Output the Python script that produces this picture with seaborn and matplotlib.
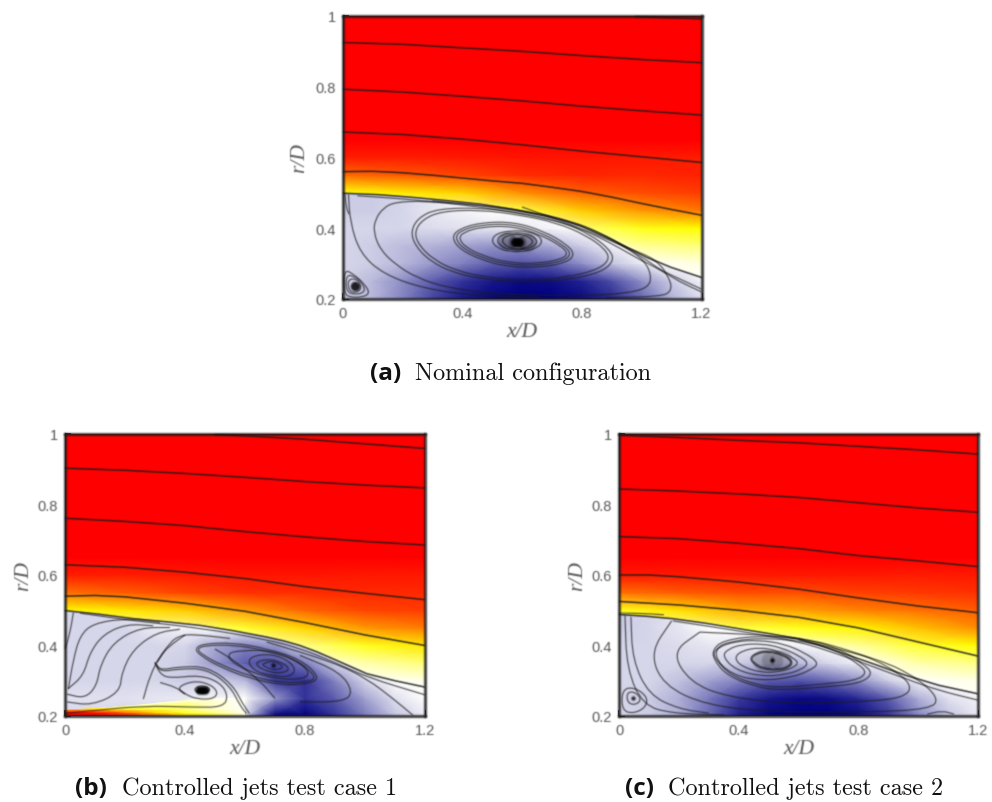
import numpy as np
import seaborn as sns
import matplotlib
matplotlib.use("Agg")
import matplotlib.pyplot as plt
from matplotlib.colors import LinearSegmentedColormap
from matplotlib.patches import PathPatch, Polygon
from matplotlib.path import Path
from matplotlib.transforms import Affine2D

# field rows are listed from the top of the plot down
JET_X = [0, 0.2, 0.4, 0.6, 0.8, 1.0, 1.2]
JET_R = [1.0, 0.95, 0.9, 0.85, 0.8, 0.75, 0.7, 0.65, 0.6, 0.55, 0.5, 0.45, 0.4, 0.35, 0.3, 0.25, 0.2]
BUBBLE_X = [0, 0.1, 0.2, 0.3, 0.4, 0.5, 0.6, 0.7, 0.8, 0.9, 1.0, 1.1, 1.2]
BUBBLE_R = [0.5, 0.45, 0.4, 0.35, 0.3, 0.25, 0.2]
WEDGE_X = [0, 0.1, 0.2, 0.3, 0.4, 0.5, 0.6]
WEDGE_R = [0.25, 0.24, 0.23, 0.22, 0.21, 0.2]

JET_TOP = [[1, 1, 1, 1, 1, 1, 1]] * 8

JET_A = JET_TOP + [
    [0.97, 0.97, 0.975, 0.98, 0.98, 0.975, 0.97],
    [0.894, 0.912, 0.931, 0.955, 0.961, 0.958, 0.965],
    [0.74, 0.768, 0.79, 0.857, 0.905, 0.925, 0.938],
    [0.6, 0.6, 0.6, 0.68, 0.8, 0.85, 0.88],
    [0.5, 0.5, 0.5, 0.5, 0.64, 0.725, 0.75],
    [0.5, 0.5, 0.5, 0.5, 0.52, 0.6, 0.63],
    [0.5, 0.5, 0.5, 0.5, 0.5, 0.5, 0.53],
    [0.5, 0.5, 0.5, 0.5, 0.5, 0.5, 0.5],
    [0.5, 0.5, 0.5, 0.5, 0.5, 0.5, 0.5],
]
JET_B = JET_TOP + [
    [0.97, 0.97, 0.975, 0.98, 0.98, 0.975, 0.975],
    [0.89, 0.91, 0.93, 0.95, 0.955, 0.96, 0.96],
    [0.75, 0.77, 0.8, 0.85, 0.9, 0.93, 0.94],
    [0.6, 0.6, 0.62, 0.7, 0.79, 0.85, 0.875],
    [0.5, 0.5, 0.5, 0.52, 0.62, 0.72, 0.77],
    [0.5, 0.5, 0.5, 0.5, 0.52, 0.58, 0.63],
    [0.5, 0.5, 0.5, 0.5, 0.5, 0.5, 0.52],
    [0.5, 0.5, 0.5, 0.5, 0.5, 0.5, 0.5],
    [0.5, 0.5, 0.5, 0.5, 0.5, 0.5, 0.5],
]
JET_C = JET_TOP + [
    [0.975, 0.975, 0.975, 0.975, 0.975, 0.97, 0.975],
    [0.89, 0.91, 0.925, 0.925, 0.935, 0.945, 0.95],
    [0.72, 0.78, 0.83, 0.84, 0.87, 0.89, 0.91],
    [0.6, 0.6, 0.68, 0.72, 0.76, 0.81, 0.86],
    [0.5, 0.5, 0.5, 0.55, 0.6, 0.7, 0.75],
    [0.5, 0.5, 0.5, 0.5, 0.5, 0.58, 0.62],
    [0.5, 0.5, 0.5, 0.5, 0.5, 0.5, 0.52],
    [0.5, 0.5, 0.5, 0.5, 0.5, 0.5, 0.5],
    [0.5, 0.5, 0.5, 0.5, 0.5, 0.5, 0.5],
]

BUBBLE_A = [
    [0.40, 0.40, 0.42, 0.45, 0.48, 0.5, 0.5, 0.5, 0.5, 0.5, 0.5, 0.5, 0.5],
    [0.40, 0.40, 0.42, 0.45, 0.48, 0.5, 0.5, 0.5, 0.5, 0.5, 0.5, 0.5, 0.5],
    [0.42, 0.42, 0.42, 0.43, 0.44, 0.45, 0.46, 0.48, 0.5, 0.5, 0.5, 0.5, 0.5],
    [0.42, 0.40, 0.37, 0.35, 0.32, 0.29, 0.29, 0.34, 0.40, 0.47, 0.5, 0.5, 0.5],
    [0.42, 0.40, 0.36, 0.30, 0.25, 0.19, 0.16, 0.19, 0.28, 0.38, 0.46, 0.5, 0.5],
    [0.42, 0.36, 0.28, 0.18, 0.10, 0.05, 0.02, 0.03, 0.07, 0.15, 0.28, 0.40, 0.47],
    [0.40, 0.36, 0.26, 0.14, 0.05, 0.01, 0.0, 0.0, 0.02, 0.08, 0.20, 0.34, 0.43],
]
BUBBLE_B = [
    [0.42, 0.42, 0.45, 0.48, 0.5, 0.5, 0.5, 0.5, 0.5, 0.5, 0.5, 0.5, 0.5],
    [0.42, 0.42, 0.42, 0.46, 0.48, 0.5, 0.5, 0.5, 0.5, 0.5, 0.5, 0.5, 0.5],
    [0.42, 0.42, 0.42, 0.42, 0.42, 0.33, 0.26, 0.30, 0.45, 0.5, 0.5, 0.5, 0.5],
    [0.42, 0.42, 0.42, 0.42, 0.40, 0.30, 0.18, 0.14, 0.24, 0.42, 0.5, 0.5, 0.5],
    [0.42, 0.42, 0.42, 0.42, 0.40, 0.42, 0.36, 0.12, 0.10, 0.26, 0.42, 0.5, 0.5],
    [0.44, 0.44, 0.44, 0.45, 0.46, 0.48, 0.5, 0.30, 0.10, 0.18, 0.32, 0.44, 0.5],
    [0.42, 0.42, 0.42, 0.42, 0.42, 0.5, 0.42, 0.0, 0.0, 0.10, 0.24, 0.38, 0.46],
]
BUBBLE_C = [
    [0.40, 0.42, 0.45, 0.5, 0.5, 0.5, 0.5, 0.5, 0.5, 0.5, 0.5, 0.5, 0.5],
    [0.40, 0.42, 0.45, 0.5, 0.5, 0.5, 0.5, 0.5, 0.5, 0.5, 0.5, 0.5, 0.5],
    [0.42, 0.42, 0.43, 0.45, 0.46, 0.46, 0.48, 0.5, 0.5, 0.5, 0.5, 0.5, 0.5],
    [0.42, 0.42, 0.42, 0.42, 0.40, 0.36, 0.36, 0.42, 0.47, 0.5, 0.5, 0.5, 0.5],
    [0.42, 0.42, 0.38, 0.32, 0.26, 0.18, 0.16, 0.20, 0.28, 0.40, 0.48, 0.5, 0.5],
    [0.42, 0.40, 0.34, 0.24, 0.12, 0.05, 0.02, 0.03, 0.08, 0.18, 0.34, 0.44, 0.48],
    [0.42, 0.40, 0.34, 0.20, 0.06, 0.01, 0.0, 0.0, 0.02, 0.10, 0.26, 0.38, 0.45],
]
WEDGE_VALUES = [
    [0.42, 0.42, 0.45, 0.5, 0.52, 0.52, 0.5],
    [0.42, 0.45, 0.48, 0.52, 0.58, 0.54, 0.5],
    [0.45, 0.5, 0.55, 0.62, 0.65, 0.55, 0.5],
    [0.8, 0.78, 0.72, 0.7, 0.62, 0.55, 0.5],
    [1, 0.98, 0.9, 0.8, 0.72, 0.62, 0.52],
    [1, 1, 0.98, 0.9, 0.78, 0.7, 0.55],
]
WEDGE_EDGE = [(0, 0.2), (0, 0.217), (0.2, 0.228), (0.4, 0.245), (0.5, 0.255), (0.6, 0.25), (0.6, 0.2)]

SHEAR_A = [(0, 0.499), (0.12, 0.495), (0.237, 0.487), (0.35, 0.478), (0.46, 0.468), (0.57, 0.453), (0.682, 0.435), (0.74, 0.422), (0.794, 0.407), (0.85, 0.386), (0.905, 0.365), (0.96, 0.342), (1.016, 0.318), (1.1, 0.289), (1.2, 0.261)]
SHEAR_B = [(0, 0.499), (0.11, 0.489), (0.228, 0.476), (0.34, 0.467), (0.45, 0.457), (0.56, 0.442), (0.672, 0.424), (0.73, 0.413), (0.783, 0.40), (0.84, 0.382), (0.894, 0.362), (0.95, 0.341), (1.006, 0.32), (1.1, 0.30), (1.2, 0.282)]
SHEAR_C = [(0, 0.488), (0.09, 0.483), (0.18, 0.476), (0.29, 0.463), (0.404, 0.447), (0.5, 0.434), (0.6, 0.419), (0.67, 0.401), (0.738, 0.381), (0.85, 0.348), (0.96, 0.315), (1.07, 0.287), (1.2, 0.263)]

# outer streamlines in the jet
OUTER_A = [
    [(0.98, 0.998), (1.2, 0.992)],
    [(0, 0.925), (0.2, 0.92), (0.4, 0.91), (0.6, 0.90), (0.8, 0.888), (1.0, 0.877), (1.2, 0.868)],
    [(0, 0.793), (0.2, 0.785), (0.4, 0.773), (0.6, 0.76), (0.8, 0.745), (1.0, 0.732), (1.2, 0.72)],
    [(0, 0.672), (0.2, 0.665), (0.4, 0.652), (0.6, 0.636), (0.8, 0.618), (1.0, 0.602), (1.2, 0.586)],
    [(0, 0.56), (0.1, 0.561), (0.2, 0.557), (0.3, 0.55), (0.4, 0.542), (0.5, 0.534), (0.6, 0.527), (0.7, 0.516), (0.8, 0.504), (0.9, 0.488), (1.0, 0.47), (1.1, 0.453), (1.2, 0.437)],
    SHEAR_A,
]
OUTER_B = [
    [(0.5, 0.998), (0.6, 0.995), (0.8, 0.985), (1.0, 0.972), (1.2, 0.959)],
    [(0, 0.903), (0.2, 0.897), (0.4, 0.888), (0.6, 0.877), (0.8, 0.865), (1.0, 0.855), (1.2, 0.847)],
    [(0, 0.761), (0.2, 0.752), (0.4, 0.74), (0.6, 0.723), (0.8, 0.708), (1.0, 0.695), (1.2, 0.685)],
    [(0, 0.629), (0.2, 0.622), (0.4, 0.608), (0.6, 0.59), (0.8, 0.567), (1.0, 0.548), (1.2, 0.53)],
    [(0, 0.54), (0.1, 0.542), (0.2, 0.538), (0.4, 0.52), (0.6, 0.497), (0.8, 0.465), (1.0, 0.43), (1.2, 0.40)],
    SHEAR_B,
]
OUTER_C = [
    [(0, 0.997), (0.2, 0.99), (0.4, 0.982), (0.6, 0.975), (0.8, 0.965), (1.0, 0.955), (1.2, 0.943)],
    [(0, 0.844), (0.2, 0.838), (0.4, 0.83), (0.6, 0.82), (0.8, 0.805), (1.0, 0.79), (1.2, 0.778)],
    [(0, 0.709), (0.2, 0.703), (0.4, 0.69), (0.6, 0.675), (0.8, 0.655), (1.0, 0.64), (1.2, 0.624)],
    [(0, 0.60), (0.1, 0.60), (0.2, 0.595), (0.4, 0.58), (0.6, 0.56), (0.8, 0.535), (1.0, 0.512), (1.2, 0.493)],
    [(0, 0.525), (0.2, 0.515), (0.4, 0.50), (0.6, 0.48), (0.8, 0.45), (1.0, 0.41), (1.2, 0.37)],
    SHEAR_C,
]

# curved open streamlines
LINES_A = [
    [(0.05, 0.492), (0.237, 0.481), (0.46, 0.461), (0.682, 0.428), (0.794, 0.40), (0.905, 0.355), (1.016, 0.30), (1.2, 0.228)],
    [(0.30, 0.478), (0.6, 0.45), (0.8, 0.41), (0.92, 0.36), (1.0, 0.32), (1.1, 0.26), (1.2, 0.22)],
    [(0.6, 0.46), (0.8, 0.40), (0.95, 0.345), (1.05, 0.312), (1.095, 0.256), (1.10, 0.223), (1.067, 0.207), (0.883, 0.204)],
    [(0.02, 0.496), (0.025, 0.42), (0.058, 0.33), (0.137, 0.27), (0.27, 0.23), (0.437, 0.21), (0.66, 0.205)],
    [(0.008, 0.498), (0.012, 0.46), (0.022, 0.44)],
]
RINGS_A = [
    [(0.176, 0.474), (0.137, 0.458), (0.109, 0.425), (0.104, 0.388), (0.126, 0.340), (0.176, 0.298), (0.248, 0.260), (0.349, 0.232), (0.493, 0.216), (0.660, 0.210), (0.827, 0.210), (0.950, 0.216), (1.022, 0.232), (1.033, 0.265), (1.011, 0.307), (0.950, 0.345), (0.861, 0.388), (0.761, 0.421), (0.616, 0.449), (0.438, 0.468), (0.271, 0.477)],
    [(0.315, 0.455), (0.254, 0.430), (0.228, 0.392), (0.243, 0.350), (0.293, 0.307), (0.371, 0.274), (0.471, 0.256), (0.605, 0.246), (0.749, 0.254), (0.861, 0.274), (0.908, 0.307), (0.894, 0.340), (0.827, 0.383), (0.727, 0.421), (0.594, 0.444), (0.460, 0.458)],
    [(0.330, 0.448), (0.268, 0.425), (0.240, 0.390), (0.255, 0.352), (0.305, 0.311), (0.380, 0.280), (0.475, 0.262), (0.605, 0.252), (0.740, 0.260), (0.845, 0.280), (0.893, 0.309), (0.880, 0.340), (0.815, 0.380), (0.715, 0.416), (0.590, 0.438), (0.460, 0.452)],
    [(0.365, 0.373), (0.387, 0.397), (0.460, 0.416), (0.571, 0.418), (0.672, 0.392), (0.749, 0.355), (0.777, 0.326), (0.749, 0.303), (0.660, 0.289), (0.549, 0.291), (0.460, 0.312), (0.393, 0.340)],
    [(0.376, 0.373), (0.394, 0.393), (0.461, 0.410), (0.570, 0.412), (0.666, 0.387), (0.739, 0.352), (0.765, 0.328), (0.741, 0.308), (0.657, 0.295), (0.552, 0.297), (0.465, 0.317), (0.402, 0.343)],
    [(0.388, 0.372), (0.405, 0.389), (0.464, 0.404), (0.569, 0.406), (0.660, 0.382), (0.729, 0.351), (0.754, 0.329), (0.734, 0.313), (0.654, 0.300), (0.555, 0.302), (0.470, 0.322), (0.411, 0.346)],
    [(0.497, 0.366), (0.515, 0.385), (0.56, 0.393), (0.62, 0.392), (0.665, 0.375), (0.665, 0.352), (0.62, 0.335), (0.56, 0.333), (0.515, 0.345)],
    [(0.515, 0.366), (0.53, 0.382), (0.57, 0.388), (0.62, 0.385), (0.652, 0.368), (0.645, 0.350), (0.60, 0.338), (0.555, 0.340), (0.528, 0.35)],
    [(0.53, 0.366), (0.55, 0.38), (0.585, 0.384), (0.62, 0.378), (0.64, 0.362), (0.62, 0.346), (0.585, 0.34), (0.55, 0.347)],
    [(0.005, 0.285), (0.04, 0.268), (0.07, 0.245), (0.092, 0.218), (0.07, 0.205), (0.02, 0.205), (0.005, 0.22)],
    [(0.012, 0.27), (0.045, 0.262), (0.07, 0.24), (0.075, 0.22), (0.045, 0.212), (0.012, 0.22)],
    [(0.02, 0.255), (0.045, 0.258), (0.062, 0.24), (0.058, 0.222), (0.03, 0.217), (0.018, 0.235)],
]
HALO_A = [(0.55, 0.363), (0.583, 0.362), (0.616, 0.361)]
CORES_A = [(0.575, 0.362), (0.583, 0.362), (0.591, 0.362), (0.043, 0.237)]

LINES_B = [
    [(0.05, 0.492), (0.228, 0.47), (0.45, 0.45), (0.672, 0.417), (0.783, 0.392), (0.894, 0.354), (1.006, 0.31), (1.2, 0.26)],
    [(0.011, 0.276), (0.028, 0.361), (0.05, 0.428), (0.094, 0.463), (0.206, 0.477), (0.317, 0.465)],
    [(0.011, 0.278), (0.061, 0.314), (0.083, 0.38), (0.128, 0.432), (0.206, 0.461), (0.294, 0.456)],
    [(0.006, 0.262), (0.067, 0.25), (0.106, 0.286), (0.117, 0.343), (0.161, 0.409), (0.25, 0.451), (0.35, 0.451)],
    [(0.006, 0.24), (0.09, 0.23), (0.183, 0.267), (0.189, 0.324), (0.228, 0.39), (0.306, 0.437), (0.383, 0.446)],
    [(0.261, 0.248), (0.283, 0.314), (0.317, 0.371), (0.35, 0.40), (0.40, 0.43)],
    [(0.306, 0.352), (0.35, 0.409), (0.383, 0.428), (0.428, 0.432), (0.55, 0.42)],
    [(0.3, 0.352), (0.317, 0.319), (0.35, 0.307), (0.45, 0.316), (0.517, 0.295), (0.544, 0.258), (0.528, 0.225), (0.428, 0.225), (0.261, 0.229), (0.094, 0.215), (0, 0.208)],
    [(0.3, 0.352), (0.317, 0.325), (0.383, 0.334), (0.472, 0.334), (0.55, 0.286), (0.583, 0.23), (0.605, 0.207)],
    [(0.305, 0.345), (0.32, 0.33), (0.383, 0.34), (0.475, 0.34), (0.558, 0.29), (0.592, 0.235), (0.615, 0.207)],
    [(0.317, 0.295), (0.372, 0.281), (0.40, 0.262)],
    [(0.783, 0.372), (0.917, 0.325), (0.961, 0.268), (0.928, 0.24), (0.783, 0.24)],
    [(0.672, 0.41), (0.894, 0.353), (1.006, 0.306), (1.094, 0.249), (1.16, 0.202)],
    [(0.028, 0.494), (0.017, 0.437), (0, 0.39)],
    [(0.70, 0.25), (0.65, 0.30), (0.56, 0.36), (0.50, 0.39)],
]
RINGS_B = [
    [(0.372, 0.281), (0.428, 0.30), (0.483, 0.291), (0.511, 0.267), (0.494, 0.248), (0.439, 0.248), (0.40, 0.262)],
    [(0.425, 0.275), (0.456, 0.288), (0.49, 0.275), (0.456, 0.262)],
    [(0.433, 0.391), (0.461, 0.405), (0.561, 0.408), (0.672, 0.391), (0.783, 0.362), (0.85, 0.31), (0.817, 0.292), (0.728, 0.287), (0.617, 0.306), (0.517, 0.339), (0.45, 0.372)],
    [(0.44, 0.39), (0.465, 0.40), (0.561, 0.402), (0.668, 0.386), (0.775, 0.358), (0.84, 0.31), (0.812, 0.297), (0.728, 0.293), (0.62, 0.312), (0.522, 0.344), (0.457, 0.374)],
    [(0.539, 0.377), (0.583, 0.386), (0.694, 0.386), (0.783, 0.353), (0.822, 0.315), (0.761, 0.301), (0.65, 0.315), (0.561, 0.348)],
    [(0.606, 0.362), (0.661, 0.377), (0.728, 0.367), (0.772, 0.334), (0.75, 0.31), (0.683, 0.315), (0.628, 0.329)],
    [(0.633, 0.353), (0.683, 0.362), (0.733, 0.348), (0.75, 0.329), (0.706, 0.32), (0.65, 0.334)],
    [(0.656, 0.348), (0.694, 0.358), (0.733, 0.339), (0.7, 0.329), (0.667, 0.339)],
]
HALO_B = [(0.45, 0.275), (0.462, 0.275)]
CORES_B = [(0.447, 0.275), (0.456, 0.275), (0.465, 0.275)]
DOTS_B = [(0.694, 0.345)]

LINES_C = [
    [(0, 0.492), (0.08, 0.491), (0.15, 0.487)],
    [(0.18, 0.47), (0.404, 0.441), (0.6, 0.412), (0.738, 0.374), (0.85, 0.34), (0.96, 0.305), (1.07, 0.272), (1.2, 0.245)],
    [(0.02, 0.486), (0.026, 0.334), (0.08, 0.23), (0.18, 0.207), (0.35, 0.203)],
    [(0.04, 0.482), (0.045, 0.36), (0.10, 0.26), (0.2, 0.22), (0.3, 0.208)],
    [(0.176, 0.47), (0.104, 0.38), (0.148, 0.287), (0.293, 0.23), (0.516, 0.211), (0.85, 0.211), (1.04, 0.22), (1.07, 0.249), (1.0, 0.306), (0.87, 0.362), (0.6, 0.416)],
    [(0.27, 0.438), (0.176, 0.381), (0.237, 0.296), (0.36, 0.254), (0.571, 0.235), (0.794, 0.24), (0.95, 0.25), (0.983, 0.287), (0.905, 0.339), (0.794, 0.381), (0.6, 0.425), (0.27, 0.438)],
    [(1.03, 0.205), (1.08, 0.215), (1.12, 0.205)],
]
RINGS_C = [
    [(0.315, 0.362), (0.36, 0.315), (0.46, 0.282), (0.538, 0.273), (0.683, 0.282), (0.805, 0.292), (0.85, 0.32), (0.816, 0.348), (0.738, 0.39), (0.627, 0.419), (0.46, 0.428), (0.349, 0.414), (0.315, 0.39)],
    [(0.325, 0.362), (0.368, 0.318), (0.46, 0.288), (0.538, 0.28), (0.675, 0.29), (0.79, 0.3), (0.83, 0.322), (0.8, 0.348), (0.728, 0.386), (0.62, 0.413), (0.46, 0.422), (0.355, 0.408), (0.325, 0.39)],
    [(0.31, 0.37), (0.33, 0.395), (0.39, 0.412), (0.47, 0.415), (0.55, 0.405), (0.62, 0.38), (0.67, 0.35), (0.64, 0.33), (0.58, 0.31), (0.48, 0.30), (0.38, 0.315)],
    [(0.345, 0.37), (0.365, 0.39), (0.41, 0.403), (0.475, 0.405), (0.54, 0.395), (0.6, 0.372), (0.635, 0.35), (0.61, 0.332), (0.56, 0.318), (0.48, 0.312), (0.39, 0.33)],
    [(0.385, 0.365), (0.41, 0.385), (0.47, 0.395), (0.53, 0.385), (0.59, 0.362), (0.6, 0.345), (0.55, 0.327), (0.48, 0.322), (0.41, 0.34)],
    [(0.437, 0.365), (0.46, 0.38), (0.50, 0.386), (0.55, 0.375), (0.582, 0.355), (0.57, 0.338), (0.53, 0.329), (0.48, 0.333), (0.45, 0.347)],
    [(0.44, 0.363), (0.46, 0.377), (0.50, 0.383), (0.55, 0.372), (0.578, 0.355), (0.567, 0.34), (0.53, 0.332), (0.48, 0.336), (0.453, 0.35)],
    [(0.01, 0.275), (0.05, 0.282), (0.095, 0.255), (0.09, 0.225), (0.05, 0.207), (0.01, 0.215)],
    [(0.025, 0.265), (0.05, 0.27), (0.075, 0.25), (0.06, 0.232), (0.03, 0.235)],
]
HALO_C = [(0.48, 0.358), (0.51, 0.358), (0.54, 0.358)]
CORES_C = [(0.048, 0.251)]
DOTS_C = [(0.512, 0.358)]

X_TICKS = [0, 0.4, 0.8, 1.2]
X_LABELS = ["0", "0.4", "0.8", "1.2"]
Y_TICKS = [0.2, 0.4, 0.6, 0.8, 1.0]
Y_LABELS = ["0.2", "0.4", "0.6", "0.8", "1"]

W, H = 992, 803
LINE_COLOR = "#1c1c1c"
flow_cmap = LinearSegmentedColormap.from_list(
    "flow", [(0, "#00007f"), (0.5, "#ffffff"), (0.75, "#ffff00"), (1, "#ff0000")]
)


def soften(image, dpi):
    # the panels in the reference are upscaled bitmaps, so everything in them is a bit soft
    pad = 2
    img = np.pad(image, ((pad, pad), (pad, pad), (0, 0)))
    alpha = img[..., 3:].copy()
    img[..., :3] *= alpha
    kernel = np.array([1, 3, 1]) / 5
    for axis in (0, 1):
        img = np.apply_along_axis(lambda v: np.convolve(v, kernel, mode="same"), axis, img)
    alpha = np.clip(img[..., 3:], 1e-4, 1)
    img[..., :3] = np.clip(img[..., :3] / alpha, 0, 1)
    return img, -pad, -pad


def add_field(ax, grid, xs, rs, clip=None):
    sns.heatmap(np.array(grid)[::-1], ax=ax, cmap=flow_cmap, vmin=0, vmax=1, cbar=False,
                xticklabels=False, yticklabels=False, shading="gouraud")
    mesh = ax.collections[-1]
    dx = xs[1] - xs[0]
    dr = rs[0] - rs[1]
    mesh.set_transform(Affine2D().scale(dx, dr).translate(xs[0], rs[-1]) + ax.transData)
    if clip is not None:
        mesh.set_clip_path(Polygon(clip, closed=True, transform=ax.transData))


def add_outer(ax, lines):
    for pts in lines:
        xs, rs = zip(*pts)
        sns.lineplot(x=list(xs), y=list(rs), sort=False, estimator=None, ax=ax,
                     color=LINE_COLOR, linewidth=1.1, alpha=0.9)
        ax.lines[-1].set_agg_filter(soften)


def add_curve(ax, pts, closed=False):
    # the read points are joined by quadratic curves instead of straight segments
    pts = np.array(pts, dtype=float)
    mids = (pts + np.roll(pts, -1, axis=0)) / 2
    if closed:
        verts = [mids[-1]]
        codes = [Path.MOVETO]
        for p, m in zip(pts, mids):
            verts += [p, m]
            codes += [Path.CURVE3, Path.CURVE3]
    else:
        verts = [pts[0], mids[0]]
        codes = [Path.MOVETO, Path.LINETO]
        for p, m in zip(pts[1:-1], mids[1:-1]):
            verts += [p, m]
            codes += [Path.CURVE3, Path.CURVE3]
        verts.append(pts[-1])
        codes.append(Path.LINETO)
    patch = PathPatch(Path(verts, codes), fill=False, edgecolor=LINE_COLOR, linewidth=0.85,
                      alpha=0.75, zorder=3)
    patch.set_agg_filter(soften)
    ax.add_patch(patch)


def add_core(ax, pts, size, alpha):
    xs, rs = zip(*pts)
    sns.scatterplot(x=list(xs), y=list(rs), ax=ax, color="black", s=size, alpha=alpha,
                    linewidth=0, legend=False, zorder=3)
    ax.collections[-1].set_agg_filter(soften)


def make_panel(rect, jet, bubble, shear, outer, lines, rings):
    left, top, right, bottom = rect
    ax = fig.add_axes([left / W, 1 - bottom / H, (right - left) / W, (bottom - top) / H])
    add_field(ax, jet, JET_X, JET_R)
    add_field(ax, bubble, BUBBLE_X, BUBBLE_R, clip=shear + [(1.2, 0.2), (0, 0.2)])
    add_outer(ax, outer)
    for pts in lines:
        add_curve(ax, pts)
    for pts in rings:
        add_curve(ax, pts, closed=True)
    return ax


def finish_panel(ax, xlab_y, ylab_x):
    ax.set_xlim(0, 1.2)
    ax.set_ylim(0.2, 1)
    ax.set_xticks(X_TICKS, X_LABELS)
    ax.set_yticks(Y_TICKS, Y_LABELS)
    ax.tick_params(direction="in", length=4, width=1.2, color="#222222", labelcolor="#555555",
                   labelsize=10.5, pad=5, left=True, bottom=True)
    for lab in ax.get_xticklabels() + ax.get_yticklabels():
        lab.set_family("Liberation Sans")
        lab.set_agg_filter(soften)
    ax.set_xlabel("x/D", family="Liberation Serif", style="italic", fontsize=15.5, color="#555555",
                  va="center", visible=True)
    ax.set_ylabel("r/D", family="Liberation Serif", style="italic", fontsize=15.5, color="#555555",
                  va="center", visible=True)
    ax.xaxis.set_label_coords(0.5, xlab_y)
    ax.yaxis.set_label_coords(ylab_x, 0.5)
    ax.xaxis.label.set_agg_filter(soften)
    ax.yaxis.label.set_agg_filter(soften)
    for sp in ax.spines.values():
        sp.set_visible(True)
        sp.set_color(LINE_COLOR)
        sp.set_linewidth(1.8)
        sp.set_agg_filter(soften)


def caption(tag, text, tag_x, text_x, y):
    fig.text(tag_x / W, 1 - y / H, tag, family="Open Sans", weight="bold", fontsize=17.5, va="center", color="#111111")
    fig.text(text_x / W, 1 - y / H, text, family="cmr10", fontsize=17.4, va="center", color="#111111")


sns.set_theme(style="white")
fig = plt.figure(figsize=(W / 100, H / 100), dpi=100)

ax_a = make_panel((342.5, 17, 701.5, 300), JET_A, BUBBLE_A, SHEAR_A, OUTER_A, LINES_A, RINGS_A)
add_core(ax_a, HALO_A, 170, 0.3)
add_core(ax_a, CORES_A, 45, 0.85)
finish_panel(ax_a, -0.115, -0.12)

ax_b = make_panel((65, 435, 425, 717), JET_B, BUBBLE_B, SHEAR_B, OUTER_B, LINES_B, RINGS_B)
add_field(ax_b, WEDGE_VALUES, WEDGE_X, WEDGE_R, clip=WEDGE_EDGE)
add_core(ax_b, HALO_B, 50, 0.3)
add_core(ax_b, CORES_B, 28, 0.95)
add_core(ax_b, DOTS_B, 10, 0.8)
finish_panel(ax_b, -0.115, -0.115)

ax_c = make_panel((619, 435, 978, 717), JET_C, BUBBLE_C, SHEAR_C, OUTER_C, LINES_C, RINGS_C)
add_core(ax_c, HALO_C, 240, 0.18)
add_core(ax_c, CORES_C, 9, 0.85)
add_core(ax_c, DOTS_C, 10, 0.9)
finish_panel(ax_c, -0.115, -0.115)

caption("(a)", "Nominal configuration", 370, 415, 374)
caption("(b)", "Controlled jets test case 1", 75, 122, 789)
caption("(c)", "Controlled jets test case 2", 625, 668, 789)

fig.savefig("out.png", dpi=100)
